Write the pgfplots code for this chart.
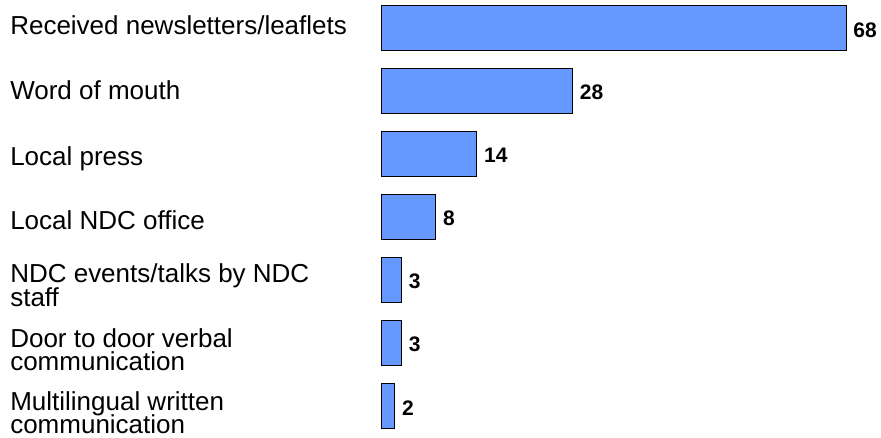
\documentclass[border=0pt]{standalone}
\usepackage{fontspec}
\setmainfont{Liberation Sans}
\usepackage{pgfplots}
\pgfplotsset{compat=1.18}
\definecolor{barblue}{RGB}{102,153,255}
\newcommand\twol[3]{\raisebox{#1}{\vtop{\lineskiplimit=-\maxdimen\baselineskip=23.5bp\hbox{#2}\hbox{#3}}}}
\newcommand\onel[2]{\raisebox{#1}{#2}}
\begin{document}
\begin{tikzpicture}
\begin{axis}[
  scale only axis, width=881bp, height=438bp,
  xmin=-55.70, xmax=73.10, ymin=-0.449, ymax=6.503, y dir=reverse,
  xbar, bar width=45bp,
  axis line style={draw=none}, xtick=\empty, ytick={0,1,2,3,4,5,6}, major tick length=0pt,
  yticklabels={
    {\onel{-6.7bp}{Received newsletters/leaflets}},
    {\onel{-8.3bp}{Word of mouth}},
    {\onel{-10.9bp}{Local press}},
    {\onel{-12bp}{Local NDC office}},
    {\twol{-2.3bp}{NDC events/talks by NDC}{staff}},
    {\twol{-4.1bp}{Door to door verbal}{communication}},
    {\twol{-3.8bp}{Multilingual written}{communication}}
  },
  yticklabel style={anchor=base west, inner sep=0pt, xshift=10bp, font=\fontsize{26bp}{23.5bp}\selectfont},
  nodes near coords, point meta=explicit symbolic,
  every node near coord/.append style={anchor=west, inner sep=0pt, xshift=7bp, yshift=-1.5bp, font=\bfseries\fontsize{21bp}{24bp}\selectfont, text=black},
  clip=false,
]
\addplot[draw=black, fill=barblue, line width=0.8bp] coordinates {
  (68,0) [68]
  (28,1) [28]
  (14,2) [14]
  (8,3) [8]
  (3,4) [3]
  (3,5) [3]
  (2,6) [2]
};
\end{axis}
\end{tikzpicture}
\end{document}
